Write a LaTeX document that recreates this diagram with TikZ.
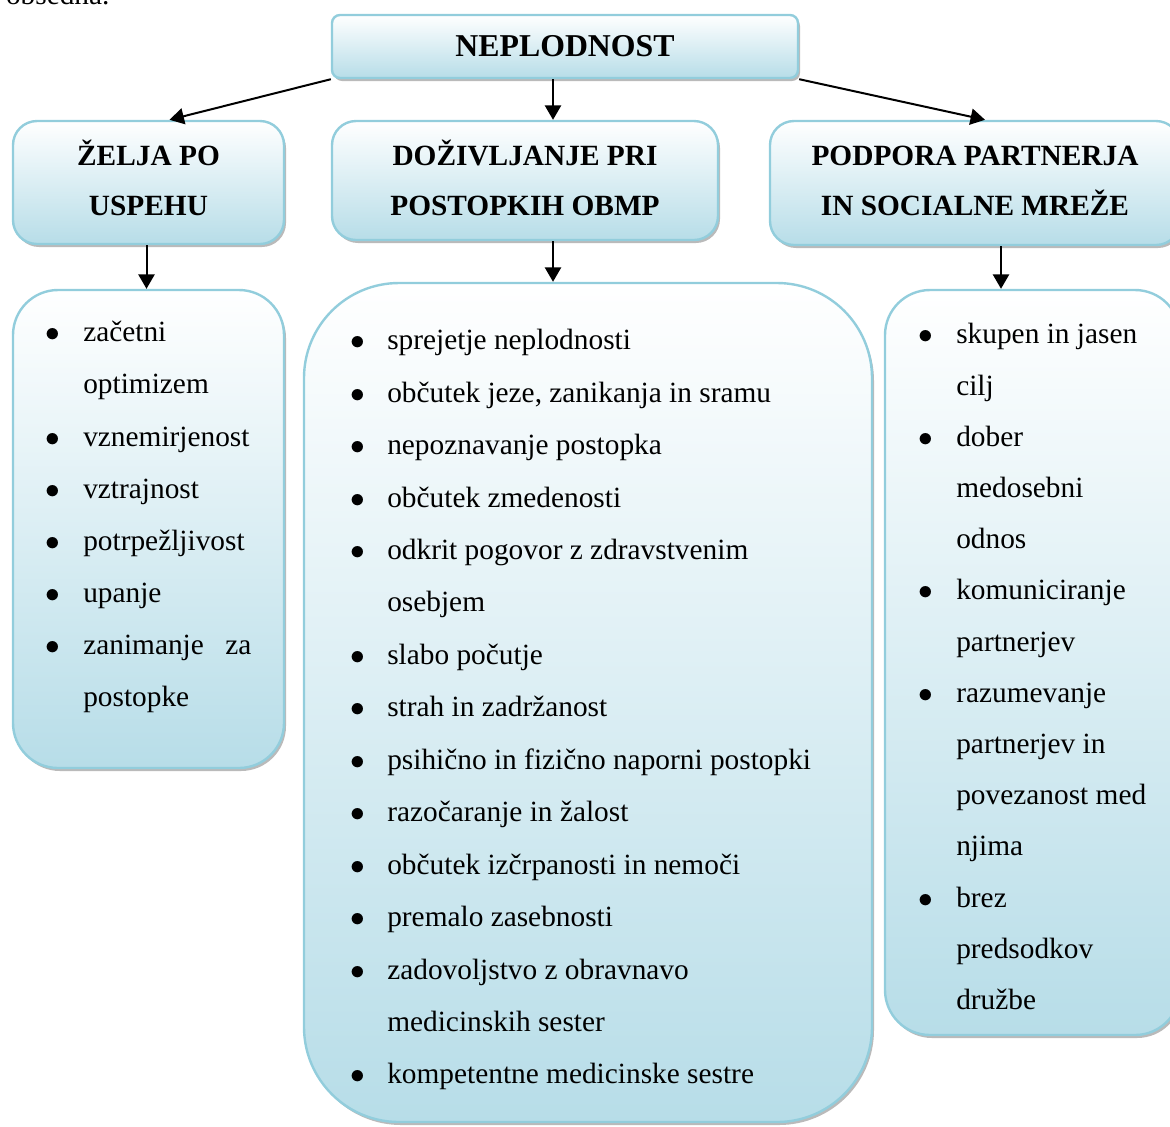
\documentclass[tikz,border=0pt]{standalone}
\usepackage{fontspec}
\setmainfont{Liberation Serif}
\usetikzlibrary{arrows.meta,shadows}
\newlength{\px}
\setlength{\px}{0.4089pt}
\definecolor{boxline}{RGB}{146,205,220}
\definecolor{boxfill}{RGB}{183,221,232}

\begin{document}
\begin{tikzpicture}[x=0.4089pt, y=-0.4089pt,
    box/.style={draw=boxline, line width=2.4\px, top color=white, bottom color=boxfill,
        drop shadow={shadow xshift=2\px, shadow yshift=-3\px, fill=black!45, opacity=0.6}, inner sep=0pt},
    head/.style={box, rounded corners=24\px},
    htext/.style={align=center, inner sep=0pt, font=\fontsize{12pt}{20.45pt}\selectfont\bfseries},
    list/.style={anchor=base west, inner sep=0pt, font=\fontsize{12pt}{#1}\selectfont},
    arr/.style={-{Triangle[length=5.9pt, width=6.6pt]}, line width=2\px}]
    \useasboundingbox (0,0) rectangle (1170,1126);
    \node[anchor=base east, inner sep=0pt, font=\fontsize{12pt}{14pt}\selectfont] (prev) at (110,4) {obsedna.};

    % boxes
    \node[box, rounded corners=8\px, minimum width=466\px, minimum height=63\px,
        font=\fontsize{13pt}{15pt}\selectfont\bfseries] (np) at (565,46.5) {NEPLODNOST};
    \node[head, minimum width=271\px, minimum height=123\px] (h1) at (148.5,182.5) {};
    \node[head, minimum width=386\px, minimum height=119\px] (h2) at (525,180.5) {};
    \node[head, minimum width=410\px, minimum height=124\px] (h3) at (975,183) {};
    \node[htext] at ([yshift=5\px]h1.center) {ŽELJA PO\\USPEHU};
    \node[htext] at ([yshift=3\px]h2.center) {DOŽIVLJANJE PRI\\POSTOPKIH OBMP};
    \node[htext] at ([yshift=2\px]h3.center) {PODPORA PARTNERJA\\IN SOCIALNE MREŽE};
    \node[box, rounded corners=45\px, minimum width=271\px, minimum height=478\px] (l1) at (148.5,529) {};
    \node[box, rounded corners=95\px, minimum width=568\px, minimum height=839\px] (l2) at (588,702.5) {};
    \node[box, rounded corners=45\px, minimum width=295\px, minimum height=745\px] (l3) at (1032.5,662.5) {};

    % lists
    \node[list=21.32pt] (t1) at ([xshift=33\px, yshift=-53\px]l1.north west) {%
        \begin{tabular}[t]{@{}p{38\px}@{}l@{}}
        $\bullet$ & začetni\\
          & optimizem\\
        $\bullet$ & vznemirjenost\\
        $\bullet$ & vztrajnost\\
        $\bullet$ & potrpežljivost\\
        $\bullet$ & upanje\\
        $\bullet$ & \makebox[168\px][s]{zanimanje\hfill za}\\
          & postopke
        \end{tabular}};
    \node[list=21.44pt] (t2) at ([xshift=47\px, yshift=-68\px]l2.north west) {%
        \begin{tabular}[t]{@{}p{37\px}@{}l@{}}
        $\bullet$ & sprejetje neplodnosti\\
        $\bullet$ & občutek jeze, zanikanja in sramu\\
        $\bullet$ & nepoznavanje postopka\\
        $\bullet$ & občutek zmedenosti\\
        $\bullet$ & odkrit pogovor z zdravstvenim\\
          & osebjem\\
        $\bullet$ & slabo počutje\\
        $\bullet$ & strah in zadržanost\\
        $\bullet$ & psihično in fizično naporni postopki\\
        $\bullet$ & razočaranje in žalost\\
        $\bullet$ & občutek izčrpanosti in nemoči\\
        $\bullet$ & premalo zasebnosti\\
        $\bullet$ & zadovoljstvo z obravnavo\\
          & medicinskih sester\\
        $\bullet$ & kompetentne medicinske sestre
        \end{tabular}};
    \node[list=20.94pt] (t3) at ([xshift=34\px, yshift=-55\px]l3.north west) {%
        \begin{tabular}[t]{@{}p{38\px}@{}l@{}}
        $\bullet$ & skupen in jasen\\
          & cilj\\
        $\bullet$ & dober\\
          & medosebni\\
          & odnos\\
        $\bullet$ & komuniciranje\\
          & partnerjev\\
        $\bullet$ & razumevanje\\
          & partnerjev in\\
          & povezanost med\\
          & njima\\
        $\bullet$ & brez\\
          & predsodkov\\
          & družbe
        \end{tabular}};

    % arrows
    \draw[arr] (np.south west) -- ([xshift=21\px]h1.north);
    \draw[arr] ([xshift=-12\px]np.south) -- ([xshift=28\px]h2.north);
    \draw[arr] (np.south east) -- ([xshift=10\px]h3.north);
    \draw[arr] ([xshift=-2\px]h1.south) -- ([xshift=-2\px]l1.north);
    \draw[arr] ([xshift=28\px]h2.south) -- ([xshift=-35\px]l2.north);
    \draw[arr] ([xshift=26\px]h3.south) -- ([xshift=-31.5\px]l3.north);
\end{tikzpicture}
\end{document}
